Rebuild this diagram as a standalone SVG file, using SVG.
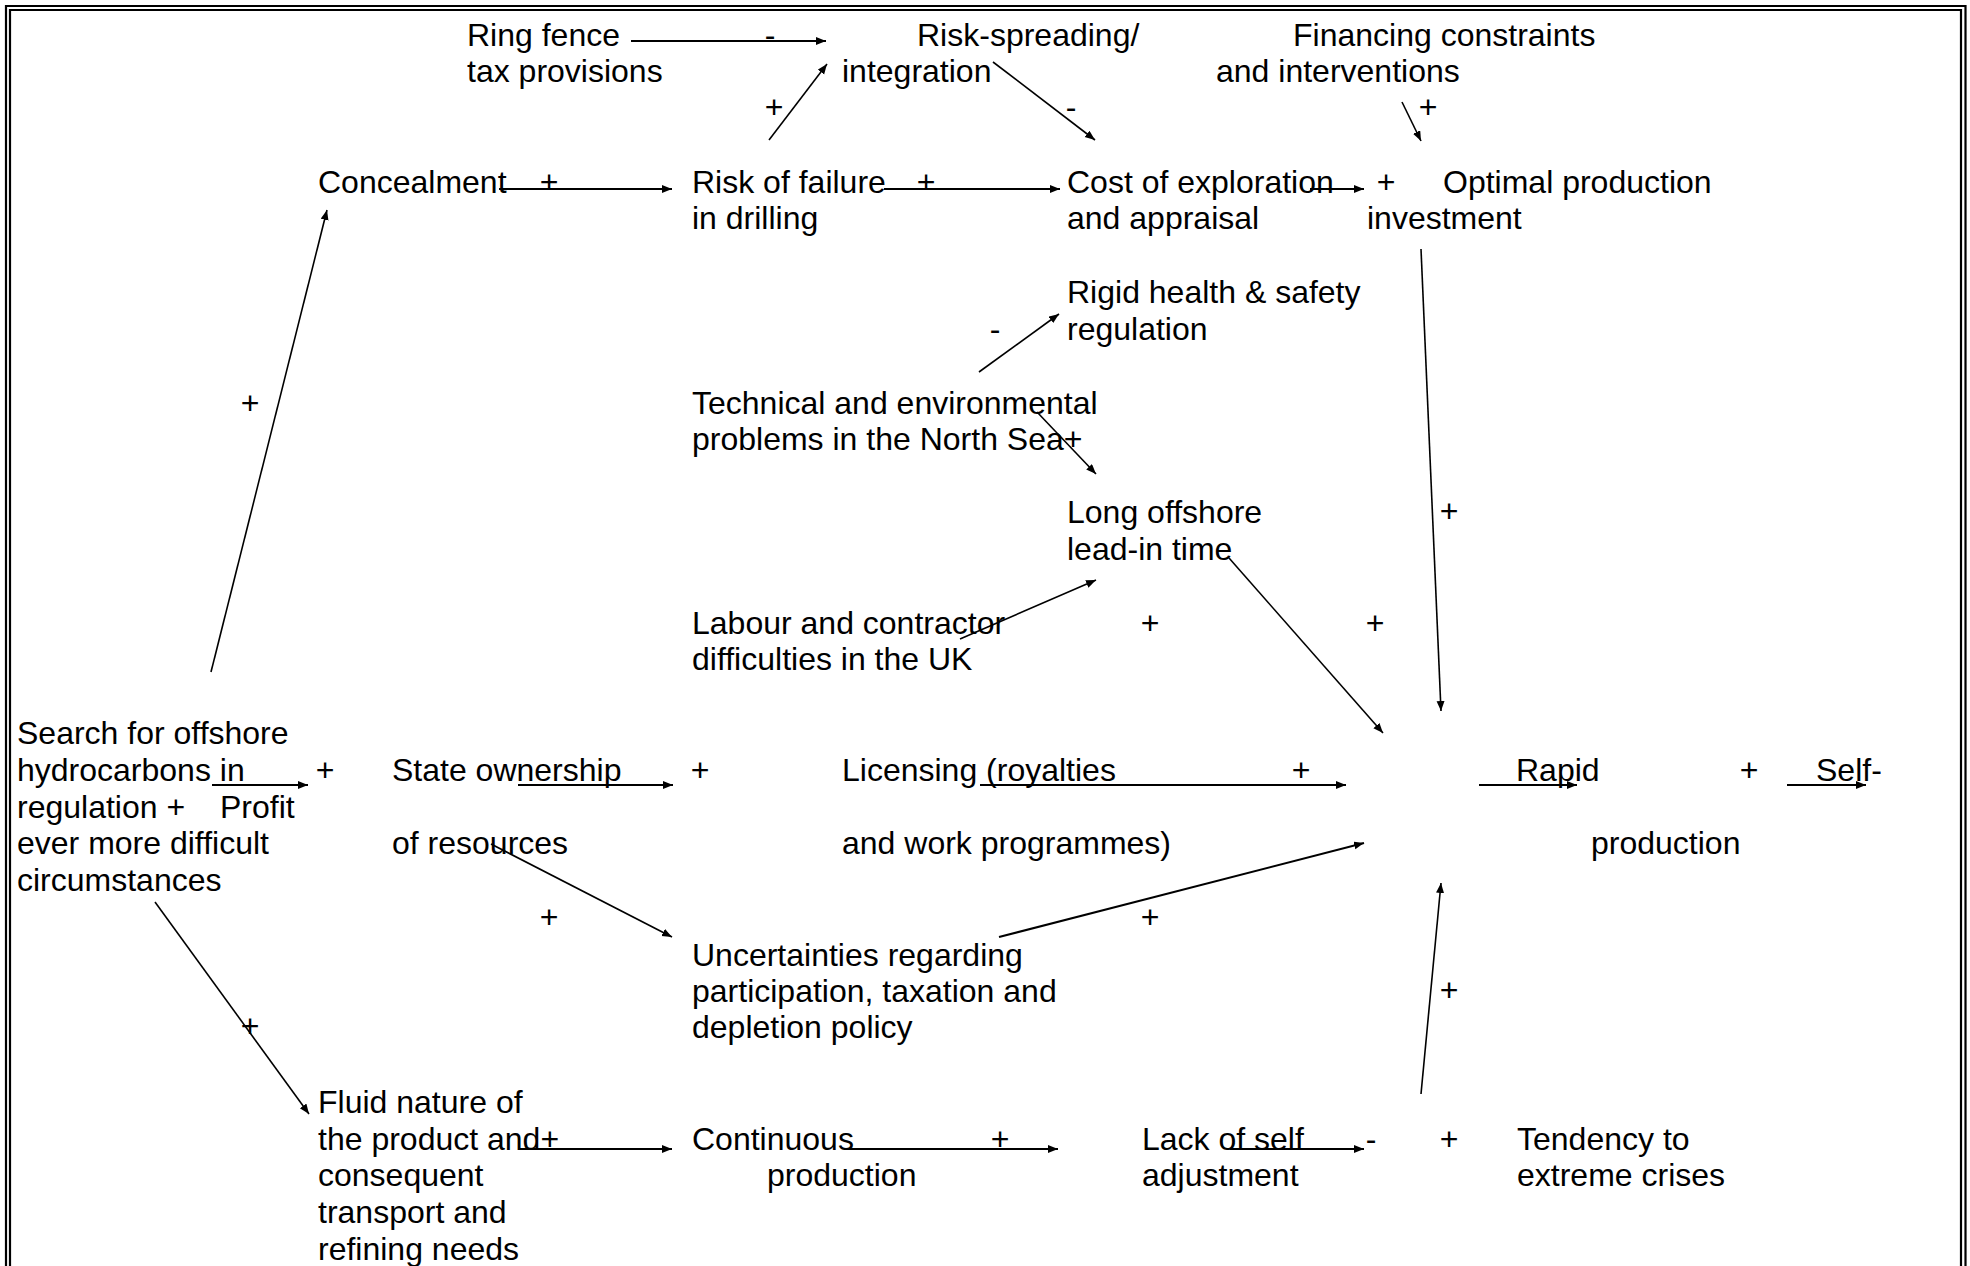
<svg xmlns="http://www.w3.org/2000/svg" width="1970" height="1266" viewBox="0 0 1970 1266">
<defs>
<marker id="ah" markerUnits="userSpaceOnUse" markerWidth="12" markerHeight="10" refX="10" refY="4" orient="auto">
<path d="M0,0 L10,4 L0,8 z" fill="#000"/>
</marker>
<style>
text{font-family:"Liberation Sans",Arial,sans-serif;font-size:32px;fill:#000}
.s{text-anchor:middle}
.c{fill:none;stroke:#000;stroke-width:1.6;marker-end:url(#ah)}
.h{stroke-width:2}
.frame{fill:none;stroke:#000;stroke-width:2.2}
</style>
</defs>
<rect x="0" y="0" width="1970" height="1266" fill="#fff"/>
<g id="frame">
<path class="frame" d="M6,1266 V6 H1965.5 V1266"/>
<path class="frame" d="M10,1266 V10 H1961 V1266"/>
</g>
<g id="connectors">
<line class="c h" x1="631" y1="41" x2="826" y2="41"/>
<line class="c" x1="769" y1="140" x2="827" y2="64"/>
<line class="c" x1="993" y1="62" x2="1095" y2="140"/>
<line class="c" x1="1402" y1="102" x2="1421" y2="141"/>
<line class="c h" x1="499" y1="189" x2="672" y2="189"/>
<line class="c h" x1="884" y1="189" x2="1060" y2="189"/>
<line class="c h" x1="1310" y1="189" x2="1364" y2="189"/>
<line class="c" x1="979" y1="372" x2="1059" y2="314"/>
<line class="c" x1="1037" y1="412" x2="1096" y2="474"/>
<line class="c" x1="960" y1="639" x2="1096" y2="580"/>
<line class="c" x1="1229" y1="558" x2="1383" y2="733"/>
<line class="c" x1="1421" y1="249" x2="1441" y2="711"/>
<line class="c" x1="211" y1="672" x2="327" y2="210"/>
<line class="c h" x1="212" y1="785" x2="308" y2="785"/>
<line class="c h" x1="518" y1="785" x2="673" y2="785"/>
<line class="c h" x1="980" y1="785" x2="1346" y2="785"/>
<line class="c h" x1="1479" y1="785" x2="1577" y2="785"/>
<line class="c h" x1="1787" y1="785" x2="1866" y2="785"/>
<line class="c" x1="491" y1="844" x2="672" y2="937"/>
<line class="c h" x1="999" y1="937" x2="1364" y2="843"/>
<line class="c" x1="155" y1="902" x2="309" y2="1114"/>
<line class="c h" x1="519" y1="1149" x2="672" y2="1149"/>
<line class="c h" x1="846" y1="1149" x2="1058" y2="1149"/>
<line class="c h" x1="1230" y1="1149" x2="1364" y2="1149"/>
<line class="c" x1="1421" y1="1094" x2="1441" y2="883"/>
</g>
<g transform="translate(-1,2)">
<g id="labels">
<text class="s" x="771" y="44">-</text>
<text class="s" x="775" y="116">+</text>
<text class="s" x="1072" y="116">-</text>
<text class="s" x="1429" y="116">+</text>
<text class="s" x="550" y="191">+</text>
<text class="s" x="927" y="191">+</text>
<text class="s" x="1387" y="191">+</text>
<text class="s" x="996" y="338">-</text>
<text class="s" x="251" y="412">+</text>
<text class="s" x="1450" y="520">+</text>
<text class="s" x="1151" y="632">+</text>
<text class="s" x="1376" y="632">+</text>
<text class="s" x="326" y="779">+</text>
<text class="s" x="701" y="779">+</text>
<text class="s" x="1302" y="779">+</text>
<text class="s" x="1750" y="779">+</text>
<text class="s" x="550" y="926">+</text>
<text class="s" x="1151" y="926">+</text>
<text class="s" x="1450" y="999">+</text>
<text class="s" x="251" y="1035">+</text>
<text class="s" x="1001" y="1148">+</text>
<text class="s" x="1372" y="1148">-</text>
<text class="s" x="1450" y="1148">+</text>
</g>
<g id="ring-fence"><text x="468" y="44">Ring fence</text><text x="468" y="80">tax provisions</text></g>
<g id="risk-spreading"><text x="918" y="44">Risk-spreading/</text><text x="843" y="80">integration</text></g>
<g id="financing"><text x="1294" y="44">Financing constraints</text><text x="1217" y="80">and interventions</text></g>
<g id="concealment"><text x="319" y="191">Concealment</text></g>
<g id="risk-failure"><text x="693" y="191">Risk of failure</text><text x="693" y="227">in drilling</text></g>
<g id="cost"><text x="1068" y="191">Cost of exploration</text><text x="1068" y="227">and appraisal</text></g>
<g id="optimal"><text x="1444" y="191">Optimal production</text><text x="1368" y="227">investment</text></g>
<g id="rigid"><text x="1068" y="301">Rigid health &amp; safety</text><text x="1068" y="338">regulation</text></g>
<g id="technical"><text x="693" y="412">Technical and environmental</text><text x="693" y="448">problems in the North Sea+</text></g>
<g id="long-offshore"><text x="1068" y="521">Long offshore</text><text x="1068" y="558">lead-in time</text></g>
<g id="labour"><text x="693" y="632">Labour and contractor</text><text x="693" y="668">difficulties in the UK</text></g>
<g id="search"><text x="18" y="742">Search for offshore</text><text x="18" y="779">hydrocarbons in</text><text x="18" y="816">regulation +</text><text x="18" y="852">ever more difficult</text><text x="18" y="889">circumstances</text></g>
<g id="profit"><text x="221" y="816">Profit</text></g>
<g id="state"><text x="393" y="779">State ownership</text><text x="393" y="852">of resources</text></g>
<g id="licensing"><text x="843" y="779">Licensing (royalties</text><text x="843" y="852">and work programmes)</text></g>
<g id="rapid"><text x="1517" y="779">Rapid</text><text x="1592" y="852">production</text></g>
<g id="self"><text x="1817" y="779">Self-</text></g>
<g id="uncertainties"><text x="693" y="964">Uncertainties regarding</text><text x="693" y="1000">participation, taxation and</text><text x="693" y="1036">depletion policy</text></g>
<g id="fluid"><text x="319" y="1111">Fluid nature of</text><text x="319" y="1148">the product and+</text><text x="319" y="1184">consequent</text><text x="319" y="1221">transport and</text><text x="319" y="1258">refining needs</text></g>
<g id="continuous"><text x="693" y="1148">Continuous</text><text x="768" y="1184">production</text></g>
<g id="lack"><text x="1143" y="1148">Lack of self</text><text x="1143" y="1184">adjustment</text></g>
<g id="tendency"><text x="1518" y="1148">Tendency to</text><text x="1518" y="1184">extreme crises</text></g>
</g>
</svg>
